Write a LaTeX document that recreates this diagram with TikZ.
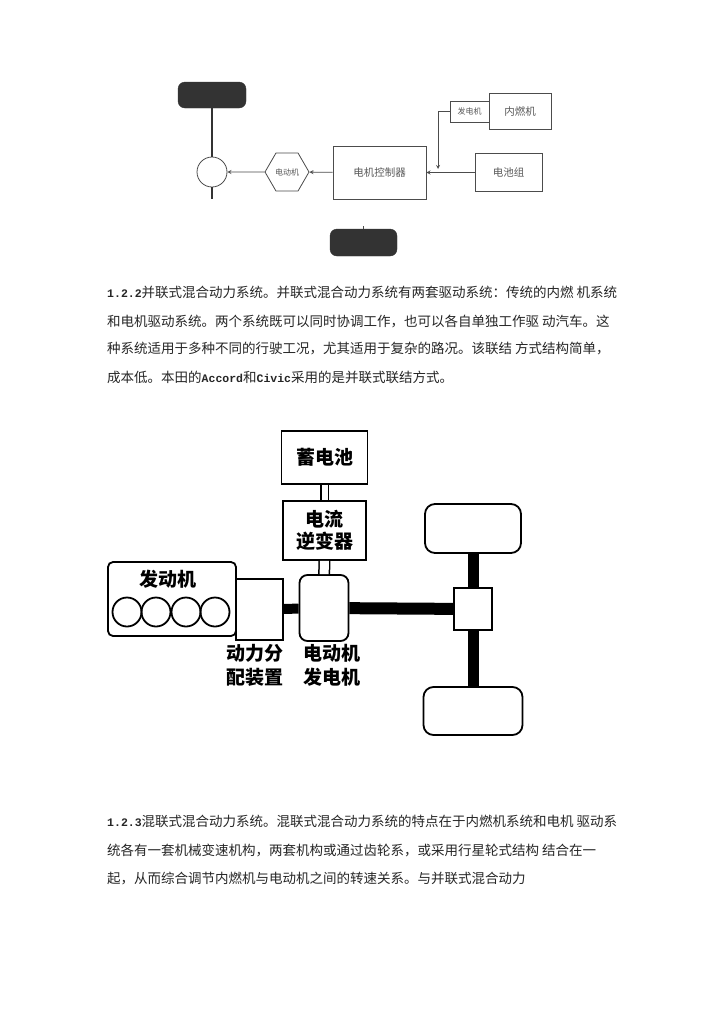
\documentclass[tikz,border=0pt]{standalone}
\usepackage{fontspec}
\newfontfamily\cjk{Noto Sans CJK SC}
\newfontfamily\latmono{Liberation Mono}
\usetikzlibrary{shapes.geometric}
\newcommand{\numbf}[1]{{\latmono\bfseries\fontsize{11.5}{13}\selectfont #1}}
\begin{document}
\begin{tikzpicture}[x=1pt,y=-1pt,
    thinbox/.style={draw=black!70, line width=0.8pt, inner sep=0pt, text=black!65, font=\cjk\fontsize{10.5}{12}\selectfont},
    thinline/.style={draw=black!70, line width=0.8pt},
    darkbar/.style={fill=black!80, draw=black!80, rounded corners=7pt},
    bigbox/.style={draw=black, line width=1.8pt, inner sep=0pt, font=\cjk\bfseries\fontsize{19}{22}\selectfont},
    biglabel/.style={inner sep=0pt, align=center, font=\cjk\bfseries\fontsize{19}{24}\selectfont},
    para/.style={anchor=west, inner sep=0pt, text=black!85, font=\cjk\fontsize{13.5}{16}\selectfont}]
  \fill[white] (0,0) rectangle (720,1018);
  \useasboundingbox (0,0) rectangle (720,1018);
  % series layout
  \node[darkbar, minimum width=68pt, minimum height=26pt] (topbar) at (212,95) {};
  \node[thinline, circle, minimum size=30pt] (hub) at (212,172) {};
  \coordinate (hubend) at (212,199);
  \draw[line width=2.5pt, black!80] (topbar) -- (hub);
  \draw[line width=2.5pt, black!80] (hub) -- (hubend);
  \node[thinbox, regular polygon, regular polygon sides=6, minimum size=44pt, font=\cjk\fontsize{8}{9}\selectfont] (emot) at (287,172) {电动机};
  \node[thinbox, minimum width=93pt, minimum height=53pt] (ctrl) at (379.5,172.5) {电机控制器};
  \node[thinbox, minimum width=39pt, minimum height=21pt, font=\cjk\fontsize{8}{9}\selectfont] (gen) at (469.5,111.5) {发电机};
  \node[thinbox, minimum width=62pt, minimum height=36pt] (ice) at (520,111) {内燃机};
  \node[thinbox, minimum width=67pt, minimum height=38pt] (pack) at (508.5,172.5) {电池组};
  \node[darkbar, minimum width=67pt, minimum height=27pt] (botbar) at (363.5,242.5) {};
  \coordinate (tap) at (438,169);
  \coordinate (tick) at (363.5,226);
  \draw[thinline,->,>=stealth] (emot) -- (hub);
  \draw[thinline,->,>=stealth] (ctrl) -- (emot);
  \draw[thinline,->,>=stealth] (pack) -- (ctrl);
  \draw[thinline,->,>=stealth] (gen.west) -| (tap);
  \draw[thinline] (botbar.north) -- (tick);
  % text 1.2.2
  \node[para] (p1a) at (107,292) {\numbf{1.2.2}并联式混合动力系统。并联式混合动力系统有两套驱动系统：传统的内燃 机系统};
  \node[para] (p1b) at (107,321) {和电机驱动系统。两个系统既可以同时协调工作，也可以各自单独工作驱 动汽车。这};
  \node[para] (p1c) at (107,349) {种系统适用于多种不同的行驶工况，尤其适用于复杂的路况。该联结 方式结构简单，};
  \node[para] (p1d) at (107,377) {成本低。本田的\numbf{Accord}和\numbf{Civic}采用的是并联式联结方式。};
  % parallel layout
  \node[bigbox, minimum width=86pt, minimum height=53pt] (store) at (324.5,457.5) {蓄电池};
  \node[bigbox, minimum width=83pt, minimum height=59pt, align=center] (inv) at (324.5,530.5) {电流\\逆变器};
  \node[bigbox, rounded corners=8pt, minimum width=49pt, minimum height=66pt] (mg) at (324,608) {};
  \node[bigbox, rounded corners=5pt, minimum width=128pt, minimum height=74pt] (eng) at (172,599) {};
  \node[bigbox, minimum width=47pt, minimum height=61pt] (psd) at (259.5,609.5) {};
  \node[bigbox, minimum width=38pt, minimum height=42pt] (diff) at (473,609) {};
  \node[bigbox, rounded corners=10pt, minimum width=96pt, minimum height=49pt] (twheel) at (473,528.5) {};
  \node[bigbox, rounded corners=10pt, minimum width=99pt, minimum height=48pt] (bwheel) at (473,711) {};
  \node[biglabel] (englbl) at (168,579) {发动机};
  \foreach \i/\x in {1/127,2/156,3/186,4/215}
    \node[bigbox, circle, minimum size=29pt] (cyl\i) at (\x,612) {};
  \draw[line width=1.5pt, double, double distance=6pt] (store) -- (inv);
  \draw[line width=1.5pt, double, double distance=9pt] (inv) -- (mg);
  \draw[line width=10pt] (psd) -- (mg);
  \draw[line width=12pt] (mg) -- (diff);
  \draw[line width=11pt] (twheel) -- (diff);
  \draw[line width=11pt] (diff) -- (bwheel);
  \node[biglabel] (psdlbl) at (255,665) {动力分\\配装置};
  \node[biglabel] (mglbl) at (332,665) {电动机\\发电机};
  % text 1.2.3
  \node[para] (p2a) at (107,821) {\numbf{1.2.3}混联式混合动力系统。混联式混合动力系统的特点在于内燃机系统和电机 驱动系};
  \node[para] (p2b) at (107,850) {统各有一套机械变速机构，两套机构或通过齿轮系，或采用行星轮式结构 结合在一};
  \node[para] (p2c) at (107,879) {起，从而综合调节内燃机与电动机之间的转速关系。与并联式混合动力};
\end{tikzpicture}
\end{document}
